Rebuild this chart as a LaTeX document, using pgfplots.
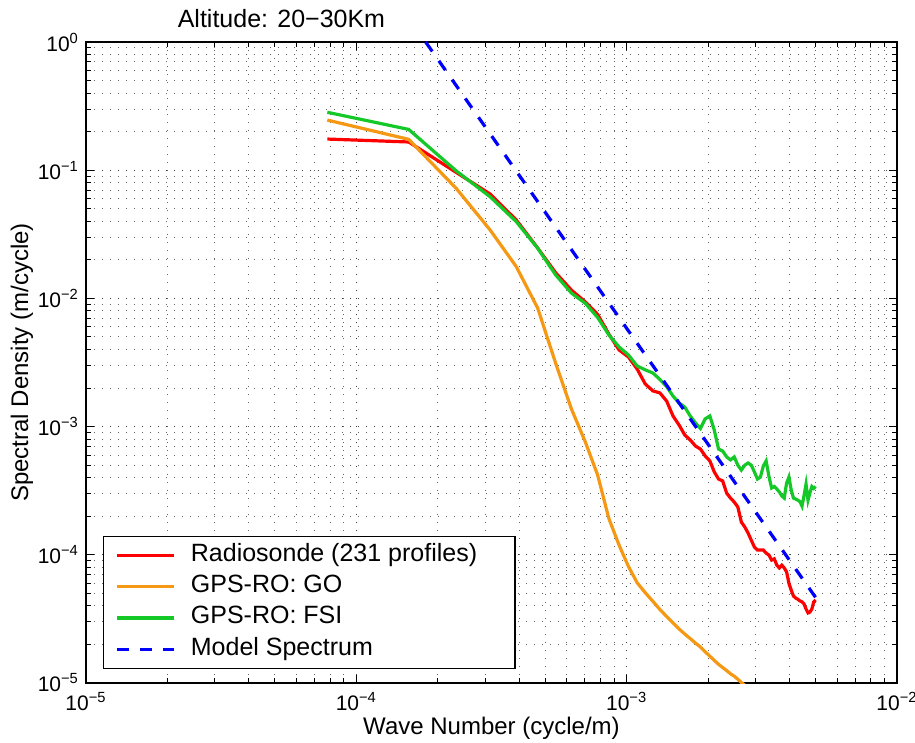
\documentclass[border=0pt]{standalone}
\usepackage{fontspec}
\setmainfont{Liberation Sans}
\setsansfont{Liberation Sans}
\usepackage{pgfplots}
\pgfplotsset{compat=1.18}
\usepackage{pgfplotstable}
\usetikzlibrary{calc}

\definecolor{goorange}{RGB}{245,152,20}
\definecolor{fsigreen}{RGB}{20,200,40}

% k = wave number (cycle/m), rs = radiosonde, fsi = GPS-RO FSI
\pgfplotstableread{
k rs fsi
7.8125e-5 0.175 0.283
1.5625e-4 0.166 0.208
2.34375e-4 0.096 0.0986
3.125e-4 0.0652 0.0621
3.90625e-4 0.0409 0.0397
4.6875e-4 0.0247 0.0246
5.46875e-4 0.0158 0.0152
6.25e-4 0.0116 0.0110
7.03125e-4 0.0094 0.00916
7.8125e-4 0.0075 0.0071
8.59375e-4 0.00527 0.00519
9.375e-4 0.00396 0.00418
1.015625e-3 0.00349 0.00362
1.09375e-3 0.00281 0.00297
1.171875e-3 0.00215 0.00277
1.25e-3 0.0019 0.00262
1.328125e-3 0.00183 0.00233
1.40625e-3 0.00158 0.00205
1.484375e-3 0.00121 0.00173
1.5625e-3 0.00103 0.00153
1.640625e-3 8.6e-4 1.42e-3
1.71875e-3 7.87e-4 1.21e-3
1.796875e-3 7.06e-4 1.07e-3
1.875e-3 6.68e-4 9.67e-4
1.953125e-3 5.9e-4 1.15e-3
2.03125e-3 5.4e-4 1.21e-3
2.109375e-3 4.43e-4 9.4e-4
2.1875e-3 3.9e-4 6.68e-4
2.265625e-3 3.77e-4 6.45e-4
2.34375e-3 3.03e-4 5.8e-4
2.421875e-3 2.77e-4 5.5e-4
2.5e-3 2.58e-4 5.8e-4
2.578125e-3 2.36e-4 5.0e-4
2.65625e-3 1.8e-4 4.58e-4
2.734375e-3 1.65e-4 5.0e-4
2.8125e-3 1.48e-4 5.2e-4
2.890625e-3 1.30e-4 5.0e-4
2.96875e-3 1.15e-4 4.43e-4
3.046875e-3 1.09e-4 3.9e-4
3.125e-3 1.09e-4 4.04e-4
3.203125e-3 1.09e-4 4.93e-4
3.28125e-3 1.03e-4 5.4e-4
3.359375e-3 9.96e-5 4.1e-4
3.4375e-3 9.1e-5 3.32e-4
3.515625e-3 9.3e-5 3.41e-4
3.59375e-3 8.3e-5 3.26e-4
3.671875e-3 7.9e-5 3.09e-4
3.75e-3 8.3e-5 2.88e-4
3.828125e-3 7.9e-5 2.77e-4
3.90625e-3 7.35e-5 3.63e-4
3.984375e-3 6.0e-5 4.04e-4
4.0625e-3 5.3e-5 3.2e-4
4.140625e-3 4.77e-5 2.77e-4
4.21875e-3 4.6e-5 2.72e-4
4.296875e-3 4.5e-5 2.67e-4
4.375e-3 4.37e-5 2.6e-4
4.453125e-3 4.3e-5 2.4e-4
4.53125e-3 4.13e-5 2.9e-4
4.609375e-3 3.78e-5 3.56e-4
4.6875e-3 3.52e-5 2.67e-4
4.765625e-3 3.58e-5 3.05e-4
4.84375e-3 3.78e-5 3.41e-4
4.921875e-3 4.3e-5 3.3e-4
5e-3 4.44e-5 3.41e-4
}\specdata

% GPS-RO GO (runs below the axis after ~2.7e-3)
\pgfplotstableread{
k go
7.8125e-5 0.246
1.5625e-4 0.174
2.34375e-4 0.072
3.125e-4 0.0342
3.90625e-4 0.0177
4.6875e-4 0.0084
5.46875e-4 0.0031
6.25e-4 0.00137
7.03125e-4 7.6e-4
7.8125e-4 4.19e-4
8.59375e-4 1.92e-4
9.375e-4 1.19e-4
1.015625e-3 8.1e-5
1.09375e-3 6.05e-5
1.171875e-3 5.06e-5
1.25e-3 4.34e-5
1.328125e-3 3.74e-5
1.40625e-3 3.3e-5
1.484375e-3 2.94e-5
1.5625e-3 2.64e-5
1.640625e-3 2.41e-5
1.71875e-3 2.22e-5
1.796875e-3 2.05e-5
1.875e-3 1.91e-5
1.953125e-3 1.75e-5
2.03125e-3 1.62e-5
2.109375e-3 1.5e-5
2.1875e-3 1.4e-5
2.265625e-3 1.32e-5
2.34375e-3 1.25e-5
2.421875e-3 1.18e-5
2.5e-3 1.13e-5
2.578125e-3 1.07e-5
2.65625e-3 1.01e-5
2.734375e-3 9.6e-6
2.8125e-3 9.2e-6
}\godata

\begin{document}
\begin{tikzpicture}
\begin{axis}[
  xmode=log, ymode=log,
  scale only axis,
  width=405.5pt, height=320.5pt,
  xmin=1e-5, xmax=1e-2,
  ymin=1e-5, ymax=1,
  xtick={1e-5,1e-4,1e-3,1e-2},
  xticklabels={10\textsuperscript{−5},10\textsuperscript{−4},10\textsuperscript{−3},10\textsuperscript{−2}},
  ytick={1e-5,1e-4,1e-3,1e-2,1e-1,1},
  yticklabels={10\textsuperscript{−5},10\textsuperscript{−4},10\textsuperscript{−3},10\textsuperscript{−2},10\textsuperscript{−1},10\textsuperscript{0}},
  tick label style={font=\fontsize{10.5}{12}\selectfont},
  xticklabel style={yshift=-1pt},
  grid=both,
  major grid style={line width=0.5pt, black!75, dash pattern=on 0.6pt off 3.4pt},
  minor grid style={line width=0.5pt, black!60, dash pattern=on 0.6pt off 3.4pt},
  major tick length=4pt, minor tick length=2.5pt,
  every tick/.style={black, line width=0.5pt},
  axis line style={line width=0.7pt},
  title={Altitude: 20−30Km},
  title style={at={(axis description cs:0.241,1.0367)}, anchor=center, yshift=-6pt, font=\fontsize{12.5}{14}\selectfont},
  xlabel={Wave Number (cycle/m)},
  ylabel={Spectral Density (m/cycle)},
  label style={font=\fontsize{12}{14}\selectfont},
  xlabel style={at={(axis description cs:0.5,-0.0702)}, anchor=center},
  ylabel style={at={(axis description cs:-0.0789,0.5)}, anchor=center},
  legend cell align=left,
  legend image code/.code={\draw[#1] (0pt,0pt) -- (28.5pt,0pt);},
  legend style={
    at={(axis description cs:0.021,0.022)}, anchor=south west,
    draw=black, line width=0.7pt,
    font=\fontsize{12.5}{14}\selectfont,
    inner xsep=6pt, inner ysep=3.5pt,
    column sep=7.5pt, row sep=3.65pt,
    nodes={inner sep=0pt, text height=9pt, text depth=3pt},
  },
]
\addplot[red, line width=1.6pt] table[x=k, y=rs] {\specdata};
\addlegendentry{\makebox[156pt][l]{Radiosonde (231 profiles)}}
\addplot[goorange, line width=1.6pt] table[x=k, y=go] {\godata};
\addlegendentry{GPS-RO: GO}
\addplot[fsigreen, line width=1.6pt] table[x=k, y=fsi] {\specdata};
\addlegendentry{GPS-RO: FSI}
\addplot[blue, line width=1.6pt, dash pattern=on 5.75pt off 5.75pt] coordinates {(1.805e-4,1) (5e-3,4.65e-5)};
\addlegendentry{Model Spectrum}
\end{axis}
\pgfresetboundingbox
\useasboundingbox ($(current axis.south west)+(-43pt,-30pt)$) rectangle ($(current axis.north east)+(9pt,21pt)$);
\end{tikzpicture}
\end{document}
